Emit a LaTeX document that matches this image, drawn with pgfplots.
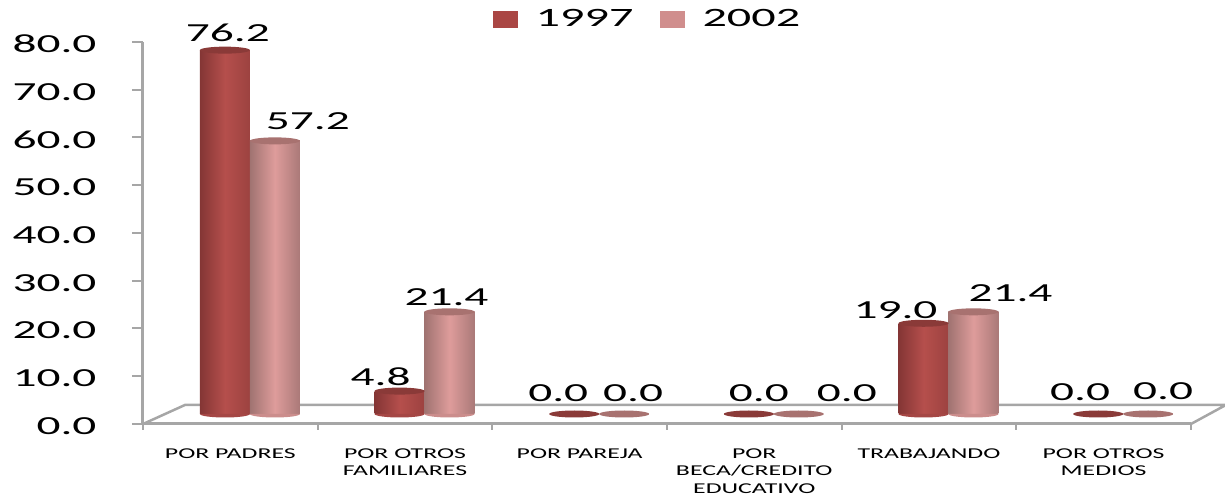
\documentclass[border=0pt]{standalone}
\usepackage{pgfplots}
\pgfplotsset{compat=1.18}
\usepackage{pgfplotstable}
\usepackage{fontspec}
\setmainfont{Carlito}
\newfontfamily\numfont[FakeStretch=1.82]{Carlito}
\newfontfamily\catfont[FakeStretch=1.72]{Carlito}
\definecolor{axisgray}{HTML}{A6A6A6}
\definecolor{darkL}{HTML}{843635}
\definecolor{darkM}{HTML}{B54F4C}
\definecolor{darkR}{HTML}{9C4240}
\definecolor{darkC}{HTML}{8A3A38}
\definecolor{darkB}{HTML}{A54745}
\definecolor{lightL}{HTML}{A07371}
\definecolor{lightM}{HTML}{DE9C9B}
\definecolor{lightR}{HTML}{AA7978}
\definecolor{lightC}{HTML}{A87270}
\definecolor{lightB}{HTML}{CB8D8C}
\definecolor{leg1}{HTML}{AA4644}
\definecolor{leg2}{HTML}{D08E8D}
\pgfdeclareplotmark{cyl}{\pgfpathellipse{\pgfpointorigin}{\pgfqpoint{25pt}{0pt}}{\pgfqpoint{0pt}{3.5pt}}\pgfusepathqfill}
\pgfdeclareplotmark{cylb}{\pgfpathmoveto{\pgfqpoint{-25pt}{0pt}}\pgfpatharc{180}{360}{25pt and 3.5pt}\pgfpathclose\pgfusepathqfill}
\pgfplotstableread{
x      val   base dx  dy
-0.143 76.2  0    3   17
0.857  4.8   0    -19 14
1.857  0.0   nan  -16 21
2.857  0.0   nan  10  21
3.857  19.0  0    -28 13
4.857  0.0   nan  -18 22
}\tabA
\pgfplotstableread{
x      val   base dx  dy
0.143  57.2  0    33  20
1.143  21.4  0    -3  15
2.143  0.0   nan  9   21
3.143  0.0   nan  48  21
4.143  21.4  0    37  19
5.143  0.0   nan  15  23
}\tabB
\pgfplotsset{
  barA/.style={ybar,bar shift=0pt,bar width=50pt,draw=none,left color=darkL,right color=darkR,middle color=darkM},
  barB/.style={ybar,bar shift=0pt,bar width=50pt,draw=none,left color=lightL,right color=lightR,middle color=lightM},
  vallabel/.style={forget plot,only marks,mark=none,point meta=explicit,
    visualization depends on={\thisrow{dx}\as\dxv},visualization depends on={\thisrow{dy}\as\dyv},
    nodes near coords,
    every node near coord/.style={anchor=center,inner sep=0pt,xshift=\dxv pt,yshift=\dyv pt,
      font=\numfont\fontsize{26}{26}\selectfont,text=black,
      /pgf/number format/.cd,fixed,fixed zerofill,precision=1,assume math mode=true}},
}
\begin{document}
\begin{tikzpicture}[x=1pt,y=1pt]
\path[use as bounding box] (-143,-73) rectangle (1082,424);
% frame
\begin{axis}[at={(0,0)},anchor=south west,scale only axis,width=1048pt,height=382pt,
  xmin=0,xmax=6,ymin=0,ymax=80,clip=false,
  axis x line*=bottom,axis y line*=left,
  axis line style={axisgray,line width=3pt,-},
  tick style={axisgray,line width=2pt},
  tick align=outside,major tick length=11pt,minor tick length=6pt,
  ytick={0,10,...,80},
  xtick={0.5,1.5,2.5,3.5,4.5,5.5},
  minor xtick={0,1,2,3,4,5,6},
  x tick style={draw=none},
  minor x tick style={axisgray,line width=2pt,draw=axisgray},
  xticklabels={POR PADRES,POR OTROS\\FAMILIARES,POR PAREJA,POR\\BECA/CREDITO\\EDUCATIVO,TRABAJANDO,POR OTROS\\MEDIOS},
  xticklabel style={font=\catfont\fontsize{15}{17.5}\selectfont,align=center,anchor=north,yshift=-10pt},
  yticklabel style={font=\numfont\fontsize{26}{26}\selectfont,anchor=east,xshift=-32pt,yshift=-2pt,
    /pgf/number format/.cd,fixed,fixed zerofill,precision=1,assume math mode=true},
]
\draw[axisgray,line width=2.5pt] (axis cs:0,0) -- (axis cs:0.24,3.98) -- (axis cs:6.2,3.98) -- (axis cs:6,0);
\end{axis}
% bars
\begin{axis}[at={(0,10pt)},anchor=south west,scale only axis,width=1048pt,height=382pt,
  xmin=-0.612,xmax=5.388,ymin=0,ymax=80,clip=false,
  hide axis,
  legend style={at={(0.4805,1.034)},anchor=center,legend columns=2,draw=none,fill=none,
    font=\numfont\fontsize{26.5}{26.5}\selectfont,
    nodes={inner sep=0pt},
    /tikz/column 1/.style={column sep=18pt},
    /tikz/column 2/.style={column sep=26pt},
    /tikz/column 3/.style={column sep=18pt}},
  legend cell align=left,
]
\addplot[forget plot,only marks,mark=cylb,mark options={fill=darkB,draw=none}] table[x=x,y=base]{\tabA};
\addplot[forget plot,only marks,mark=cylb,mark options={fill=lightB,draw=none}] table[x=x,y=base]{\tabB};
\addplot[barA,
  legend image code/.code={\pgfsetfillcolor{leg1}\pgfpathrectangle{\pgfqpoint{0pt}{-8.5pt}}{\pgfqpoint{25pt}{17pt}}\pgfusepathqfill}]
  coordinates {(-0.143,76.2)};
\addlegendentry{1997}
\addplot[barA,forget plot] coordinates {(0.857,4.8)};
\addplot[barA,forget plot] coordinates {(3.857,19.0)};
\addplot[barB,
  legend image code/.code={\pgfsetfillcolor{leg2}\pgfpathrectangle{\pgfqpoint{0pt}{-8.5pt}}{\pgfqpoint{25pt}{17pt}}\pgfusepathqfill}]
  coordinates {(0.143,57.2)};
\addlegendentry{2002}
\addplot[barB,forget plot] coordinates {(1.143,21.4)};
\addplot[barB,forget plot] coordinates {(4.143,21.4)};
\addplot[forget plot,only marks,mark=cyl,mark options={fill=darkC,draw=none}] table[x=x,y=val]{\tabA};
\addplot[forget plot,only marks,mark=cyl,mark options={fill=lightC,draw=none}] table[x=x,y=val]{\tabB};
% value labels
\addplot[vallabel] table[x=x,y=val,meta=val]{\tabA};
\addplot[vallabel] table[x=x,y=val,meta=val]{\tabB};
\end{axis}
\end{tikzpicture}
\end{document}
